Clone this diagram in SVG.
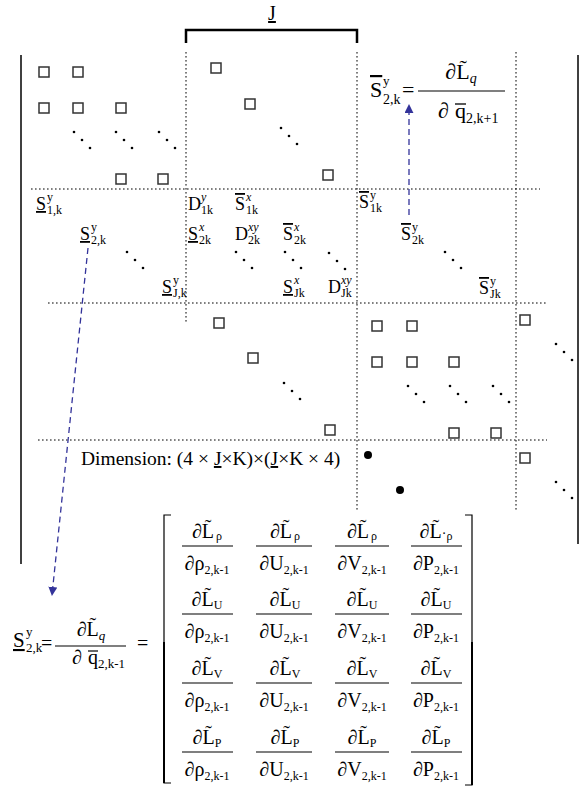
<svg xmlns="http://www.w3.org/2000/svg" width="584" height="788" viewBox="0 0 584 788">
<defs>
<style>
text{font-family:"Liberation Serif","Times New Roman",serif;fill:#000}
.l{font-size:18px}
.sp{font-size:12px}
.sb{font-size:12px}
.it{font-style:italic}
.ub{text-decoration:underline}
.ob{text-decoration:overline}
.sq{fill:#fff;stroke:#333;stroke-width:1.5}
.dt{fill:#000}
.dl{stroke:#000;stroke-width:1;stroke-dasharray:1.6 2.4;fill:none}
.sl{stroke:#000;stroke-width:1.5;fill:none}
.ar{stroke:#33339a;stroke-width:1.3;stroke-dasharray:6 4;fill:none}
.fr{stroke:#000;stroke-width:1.2}
.mn{font-size:20px}
.ms{font-size:12px}
</style>
<marker id="ah" viewBox="0 0 10 10" refX="9" refY="5" markerWidth="9" markerHeight="9" markerUnits="userSpaceOnUse" orient="auto">
<path d="M0,0 L10,5 L0,10 z" fill="#33339a"/>
</marker>
<rect id="s" x="-5" y="-5" width="10" height="10" class="sq"/>
<g id="d3">
<circle cx="0" cy="0" r="1.3" class="dt"/><circle cx="8" cy="8" r="1.3" class="dt"/><circle cx="16" cy="16" r="1.3" class="dt"/>
</g>
</defs>
<rect width="584" height="788" fill="#fff"/>

<g id="frame">
<line x1="21" y1="55" x2="21" y2="564" class="sl"/>
<line x1="578" y1="55" x2="578" y2="544" class="sl"/>
<path d="M186,43 V30 H357 V43" stroke="#000" stroke-width="2.5" fill="none"/>
<text x="272" y="20" font-size="20" text-anchor="middle" class="ub">J</text>
</g>

<g id="grid">
<line x1="186" y1="52" x2="186" y2="323" class="dl"/>
<line x1="357" y1="52" x2="357" y2="512" class="dl"/>
<line x1="516" y1="52" x2="516" y2="512" class="dl"/>
<line x1="31" y1="189" x2="540" y2="189" class="dl"/>
<line x1="48" y1="303" x2="546" y2="303" class="dl"/>
<line x1="38" y1="440" x2="547" y2="440" class="dl"/>
</g>

<g id="block-top-left">
<use href="#s" x="44" y="72"/><use href="#s" x="78" y="72"/>
<use href="#s" x="44" y="108"/><use href="#s" x="78" y="108"/><use href="#s" x="121" y="108"/>
<use href="#d3" x="74" y="132"/><use href="#d3" x="116" y="132"/><use href="#d3" x="159" y="132"/>
<use href="#s" x="121" y="179"/><use href="#s" x="163" y="179"/>
</g>

<g id="block-top-mid">
<use href="#s" x="216" y="68"/><use href="#s" x="250" y="104"/>
<use href="#d3" x="281" y="128"/>
<use href="#s" x="328" y="175"/>
</g>

<g id="eq-top-right">
<text x="370" y="97" font-size="22"><tspan class="ob">S</tspan><tspan x="383" y="85" font-size="13">y</tspan><tspan x="383" y="104" font-size="14">2,k</tspan></text>
<text x="402" y="97" font-size="22">=</text>
<line x1="418" y1="91" x2="505" y2="91" class="fr"/>
<text x="461" y="79" font-size="22" text-anchor="middle">∂L̃<tspan dy="4" font-size="14" class="it">q</tspan></text>
<text x="438" y="118" font-size="22">∂ </text>
<text x="455" y="118" font-size="22">q</text>
<line x1="455" y1="104" x2="466" y2="104" stroke="#000" stroke-width="1.3"/>
<text x="466" y="123" font-size="14">2,k+1</text>
</g>

<g id="row-labels-left">
<text class="l" x="36" y="210"><tspan class="ub">S</tspan><tspan class="sp" x="47" y="201">y</tspan><tspan class="sb" x="47" y="214">1,k</tspan></text>
<text class="l" x="80" y="240"><tspan class="ub">S</tspan><tspan class="sp" x="91" y="231">y</tspan><tspan class="sb" x="91" y="244">2,k</tspan></text>
<use href="#d3" x="127" y="252"/>
<text class="l" x="162" y="293"><tspan class="ub">S</tspan><tspan class="sp" x="173" y="284">y</tspan><tspan class="sb" x="173" y="297">J,k</tspan></text>
</g>

<g id="row-labels-mid">
<text class="l" x="188" y="210">D<tspan class="sp it" x="201" y="201">y</tspan><tspan class="sb" x="201" y="214">1k</tspan></text>
<text class="l" x="235" y="210"><tspan class="ob">S</tspan><tspan class="sp it" x="246" y="201">x</tspan><tspan class="sb" x="246" y="214">1k</tspan></text>
<text class="l" x="188" y="240"><tspan class="ub">S</tspan><tspan class="sp it" x="199" y="231">x</tspan><tspan class="sb" x="199" y="244">2k</tspan></text>
<text class="l" x="235" y="240">D<tspan class="sp it" x="248" y="231">xy</tspan><tspan class="sb" x="248" y="244">2k</tspan></text>
<text class="l" x="283" y="240"><tspan class="ob">S</tspan><tspan class="sp it" x="294" y="231">x</tspan><tspan class="sb" x="294" y="244">2k</tspan></text>
<use href="#d3" x="236" y="252"/><use href="#d3" x="285" y="252"/><use href="#d3" x="329" y="253"/>
<text class="l" x="283" y="293"><tspan class="ub">S</tspan><tspan class="sp it" x="294" y="284">x</tspan><tspan class="sb" x="294" y="297">Jk</tspan></text>
<text class="l" x="328" y="293">D<tspan class="sp it" x="341" y="284">xy</tspan><tspan class="sb" x="341" y="297">Jk</tspan></text>
</g>

<g id="row-labels-right">
<text class="l" x="359" y="208"><tspan class="ob">S</tspan><tspan class="sp" x="370" y="199">y</tspan><tspan class="sb" x="370" y="212">1k</tspan></text>
<text class="l" x="401" y="240"><tspan class="ob">S</tspan><tspan class="sp" x="412" y="231">y</tspan><tspan class="sb" x="412" y="244">2k</tspan></text>
<use href="#d3" x="445" y="252"/>
<text class="l" x="479" y="294"><tspan class="ob">S</tspan><tspan class="sp" x="490" y="285">y</tspan><tspan class="sb" x="490" y="298">Jk</tspan></text>
</g>

<g id="block-low-mid">
<use href="#s" x="219" y="323"/><use href="#s" x="253" y="358"/>
<use href="#d3" x="284" y="383"/>
<use href="#s" x="330" y="430"/>
</g>

<g id="block-low-right">
<use href="#s" x="377" y="326"/><use href="#s" x="412" y="326"/>
<use href="#s" x="377" y="362"/><use href="#s" x="412" y="362"/><use href="#s" x="454" y="362"/>
<use href="#d3" x="408" y="386"/><use href="#d3" x="450" y="386"/><use href="#d3" x="493" y="386"/>
<use href="#s" x="454" y="433"/><use href="#s" x="496" y="433"/>
</g>

<g id="block-far-right">
<use href="#s" x="525" y="320"/>
<use href="#d3" x="556" y="344"/>
<use href="#s" x="525" y="458"/>
<use href="#d3" x="556" y="482"/>
</g>

<g id="block-bottom-dots">
<circle cx="368" cy="455" r="4"/>
<circle cx="400" cy="490" r="4"/>
</g>

<g id="dimension">
<text x="81" y="465" font-size="19.5">Dimension: (4 × <tspan class="ub">J</tspan>×K)×(<tspan class="ub">J</tspan>×K × 4)</text>
</g>

<g id="eq-bottom-left">
<text x="13" y="647" font-size="21"><tspan class="ub">S</tspan><tspan x="26" y="636" font-size="13">y</tspan><tspan x="26" y="652" font-size="13">2,k</tspan></text>
<text x="41" y="650" font-size="20">=</text>
<line x1="55" y1="646" x2="126" y2="646" class="fr"/>
<text x="91" y="636" font-size="20" text-anchor="middle">∂L̃<tspan dy="4" font-size="13" class="it">q</tspan></text>
<text x="72" y="664" font-size="20">∂ </text>
<text x="88" y="664" font-size="20">q</text>
<line x1="88" y1="651" x2="98" y2="651" stroke="#000" stroke-width="1.2"/>
<text x="98" y="668" font-size="13">2,k-1</text>
<text x="137" y="650" font-size="20">=</text>
</g>

<g id="matrix">
<path d="M171,515 H164 V783 H171" stroke="#000" stroke-width="1.2" fill="none"/>
<line x1="164" y1="642" x2="164" y2="783" stroke="#000" stroke-width="2"/>
<path d="M465,515 H472 V785 H465" stroke="#000" stroke-width="1.2" fill="none"/>
<line x1="472" y1="642" x2="472" y2="785" stroke="#000" stroke-width="2"/>

<g id="row-rho">
<text class="mn" x="207" y="538" text-anchor="middle">∂L̃<tspan class="ms" dx="2" dy="2">ρ</tspan></text>
<text class="mn" x="285" y="538" text-anchor="middle">∂L̃<tspan class="ms" dx="2" dy="2">ρ</tspan></text>
<text class="mn" x="362" y="538" text-anchor="middle">∂L̃<tspan class="ms" dx="2" dy="2">ρ</tspan></text>
<text class="mn" x="436" y="538" text-anchor="middle">∂L̃<tspan font-size="14">·</tspan><tspan class="ms" dy="2">ρ</tspan></text>
<line x1="182" y1="546" x2="233" y2="546" class="fr"/><line x1="256" y1="546" x2="312" y2="546" class="fr"/><line x1="335" y1="546" x2="389" y2="546" class="fr"/><line x1="411" y1="546" x2="462" y2="546" class="fr"/>
<text class="mn" x="207" y="570" text-anchor="middle">∂ρ<tspan class="ms" dy="4">2,k-1</tspan></text>
<text class="mn" x="284" y="570" text-anchor="middle">∂U<tspan class="ms" dy="4">2,k-1</tspan></text>
<text class="mn" x="362" y="570" text-anchor="middle">∂V<tspan class="ms" dy="4">2,k-1</tspan></text>
<text class="mn" x="436" y="570" text-anchor="middle">∂P<tspan class="ms" dy="4">2,k-1</tspan></text>
</g>

<g id="row-U">
<text class="mn" x="207" y="606" text-anchor="middle">∂L̃<tspan class="ms" dy="3">U</tspan></text>
<text class="mn" x="285" y="606" text-anchor="middle">∂L̃<tspan class="ms" dy="3">U</tspan></text>
<text class="mn" x="362" y="606" text-anchor="middle">∂L̃<tspan class="ms" dy="3">U</tspan></text>
<text class="mn" x="436" y="606" text-anchor="middle">∂L̃<tspan class="ms" dy="3">U</tspan></text>
<line x1="182" y1="614" x2="233" y2="614" class="fr"/><line x1="256" y1="614" x2="312" y2="614" class="fr"/><line x1="335" y1="614" x2="389" y2="614" class="fr"/><line x1="411" y1="614" x2="462" y2="614" class="fr"/>
<text class="mn" x="207" y="638" text-anchor="middle">∂ρ<tspan class="ms" dy="4">2,k-1</tspan></text>
<text class="mn" x="284" y="638" text-anchor="middle">∂U<tspan class="ms" dy="4">2,k-1</tspan></text>
<text class="mn" x="362" y="638" text-anchor="middle">∂V<tspan class="ms" dy="4">2,k-1</tspan></text>
<text class="mn" x="436" y="638" text-anchor="middle">∂P<tspan class="ms" dy="4">2,k-1</tspan></text>
</g>

<g id="row-V">
<text class="mn" x="207" y="675" text-anchor="middle">∂L̃<tspan class="ms" dy="3">V</tspan></text>
<text class="mn" x="285" y="675" text-anchor="middle">∂L̃<tspan class="ms" dy="3">V</tspan></text>
<text class="mn" x="362" y="675" text-anchor="middle">∂L̃<tspan class="ms" dy="3">V</tspan></text>
<text class="mn" x="436" y="675" text-anchor="middle">∂L̃<tspan class="ms" dy="3">V</tspan></text>
<line x1="182" y1="683" x2="233" y2="683" class="fr"/><line x1="256" y1="683" x2="312" y2="683" class="fr"/><line x1="335" y1="683" x2="389" y2="683" class="fr"/><line x1="411" y1="683" x2="462" y2="683" class="fr"/>
<text class="mn" x="207" y="707" text-anchor="middle">∂ρ<tspan class="ms" dy="4">2,k-1</tspan></text>
<text class="mn" x="284" y="707" text-anchor="middle">∂U<tspan class="ms" dy="4">2,k-1</tspan></text>
<text class="mn" x="362" y="707" text-anchor="middle">∂V<tspan class="ms" dy="4">2,k-1</tspan></text>
<text class="mn" x="436" y="707" text-anchor="middle">∂P<tspan class="ms" dy="4">2,k-1</tspan></text>
</g>

<g id="row-P">
<text class="mn" x="207" y="744" text-anchor="middle">∂L̃<tspan class="ms" dy="3">P</tspan></text>
<text class="mn" x="285" y="744" text-anchor="middle">∂L̃<tspan class="ms" dy="3">P</tspan></text>
<text class="mn" x="362" y="744" text-anchor="middle">∂L̃<tspan class="ms" dy="3">P</tspan></text>
<text class="mn" x="436" y="744" text-anchor="middle">∂L̃<tspan class="ms" dy="3">P</tspan></text>
<line x1="182" y1="752" x2="233" y2="752" class="fr"/><line x1="256" y1="752" x2="312" y2="752" class="fr"/><line x1="335" y1="752" x2="389" y2="752" class="fr"/><line x1="411" y1="752" x2="462" y2="752" class="fr"/>
<text class="mn" x="207" y="776" text-anchor="middle">∂ρ<tspan class="ms" dy="4">2,k-1</tspan></text>
<text class="mn" x="284" y="776" text-anchor="middle">∂U<tspan class="ms" dy="4">2,k-1</tspan></text>
<text class="mn" x="362" y="776" text-anchor="middle">∂V<tspan class="ms" dy="4">2,k-1</tspan></text>
<text class="mn" x="436" y="776" text-anchor="middle">∂P<tspan class="ms" dy="4">2,k-1</tspan></text>
</g>
</g>

<g id="connectors">
<line x1="88" y1="248" x2="52" y2="595" class="ar" marker-end="url(#ah)"/>
<line x1="409" y1="215" x2="409" y2="105" class="ar" marker-end="url(#ah)"/>
</g>
</svg>
